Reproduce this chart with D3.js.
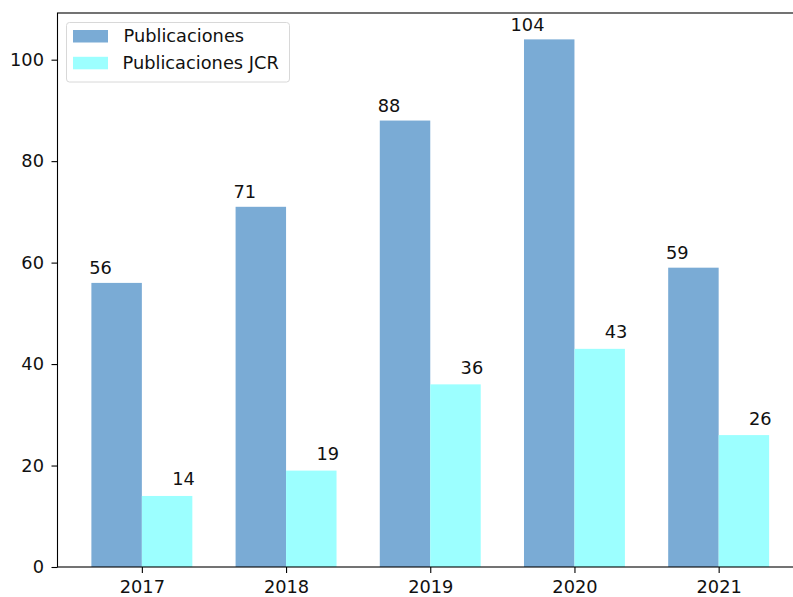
<!DOCTYPE html>
<html><head><meta charset="utf-8">
<script src="https://cdn.jsdelivr.net/npm/d3@7"></script>
<style>body{margin:0;background:#fff}svg{display:block}text{font-family:"DejaVu Sans",sans-serif}</style>
</head><body>
<svg id="c" width="793" height="597"></svg>
<script>
const years = ["2017","2018","2019","2020","2021"];
const publicaciones = [56,71,88,104,59];
const publicacionesJCR = [14,19,36,43,26];
const yTicks = [0,20,40,60,80,100];
const seriesNames = ["Publicaciones","Publicaciones JCR"];
const seriesColors = ["#7aabd5","#9cffff"];

const FS = "17.8px";
const svg = d3.select("#c");
const L = 57.5, T = 13, B = 567;
const x = d3.scaleLinear().domain([-0.585, 4.585]).range([L, L + 5.17*144.2]);
const y = d3.scaleLinear().domain([0, 109.2]).range([B, T]);
const bw = x(0.35) - x(0);

const g = svg.append("g");
const series = [publicaciones, publicacionesJCR];
series.forEach((vals, si) => {
  const off = si === 0 ? -0.35 : 0;
  g.selectAll(null).data(vals).enter().append("rect")
    .attr("x", (d,i) => x(i + off))
    .attr("width", bw)
    .attr("y", d => y(d))
    .attr("height", d => B - y(d))
    .attr("fill", seriesColors[si]);
  g.selectAll(null).data(vals).enter().append("text")
    .attr("x", (d,i) => si === 0 ? x(i + off) + 20.5 : x(i + off) + bw + 2.5)
    .attr("y", d => y(d) - (si === 0 ? 8.5 : 10.5))
    .attr("text-anchor", "end")
    .attr("font-size", FS)
    .attr("fill", "#111")
    .text(d => d);
});

// axes
const yAxis = d3.axisLeft(y).tickValues(yTicks).tickSize(6).tickPadding(7.5);
const ya = svg.append("g").attr("transform", `translate(${L},0)`).call(yAxis);
const xAxis = d3.axisBottom(x).tickValues(d3.range(years.length)).tickFormat(i => years[i]).tickSize(6).tickPadding(7.5);
const xa = svg.append("g").attr("transform", `translate(0,${B})`).call(xAxis);
[ya, xa].forEach(a => {
  a.select(".domain").remove();
  a.selectAll("line").attr("stroke", "#000").attr("stroke-width", 1.1);
  a.selectAll("text").attr("font-size", FS).attr("fill", "#111").attr("font-family", "DejaVu Sans");
});
// spines
svg.append("rect").attr("x", L).attr("y", T).attr("width", x.range()[1]-L).attr("height", B-T)
  .attr("fill", "none").attr("stroke", "#000").attr("stroke-width", 1.1);

// legend
const lg = svg.append("g");
lg.append("rect").attr("x", 66.5).attr("y", 22.5).attr("width", 223).attr("height", 59.5).attr("rx", 3)
  .attr("fill", "#fff").attr("fill-opacity", 0.8).attr("stroke", "#d8d8d8").attr("stroke-width", 1);
seriesNames.forEach((n, i) => {
  lg.append("rect").attr("x", 73).attr("y", 30 + i*26.8).attr("width", 35).attr("height", 12.5).attr("fill", seriesColors[i]);
  lg.append("text").attr("x", 123.5 - i).attr("y", 41.7 + i*26.8).attr("font-size", FS).attr("fill", "#111").text(n);
});
</script>
</body></html>
